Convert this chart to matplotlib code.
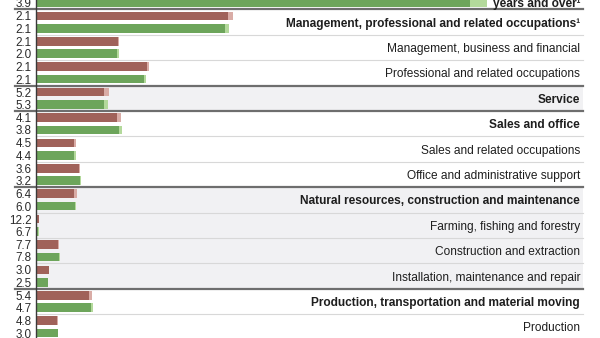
import numpy as np
import matplotlib.pyplot as plt

plt.rcParams['font.family'] = ['Liberation Sans', 'DejaVu Sans']

# occupations, top to bottom
labels = ['Total, 16\nyears and over\u00b9',
          'Management, professional and related occupations\u00b9',
          'Management, business and financial',
          'Professional and related occupations',
          'Service',
          'Sales and office',
          'Sales and related occupations',
          'Office and administrative support',
          'Natural resources, construction and maintenance',
          'Farming, fishing and forestry',
          'Construction and extraction',
          'Installation, maintenance and repair',
          'Production, transportation and material moving',
          'Production']
bold = [1, 1, 0, 0, 1, 1, 0, 0, 1, 0, 0, 0, 1, 0]
group = [0, 1, 1, 1, 2, 3, 3, 3, 4, 4, 4, 4, 5, 5]
shaded_groups = [2, 4]

# employed, millions (dark part) and upper value (light part)
red_emp = [155.0, 69.3, 29.6, 40.1, 24.5, 29.2, 13.7, 15.5, 13.7, 0.9, 7.9, 4.7, 19.1, 7.6]
red_hi = [161.0, 71.1, 30.0, 40.8, 26.4, 30.7, 14.4, 15.9, 14.8, 1.2, 8.3, 4.8, 20.2, 7.9]
green_emp = [156.7, 68.2, 29.2, 39.0, 24.5, 30.0, 13.7, 15.9, 14.1, 0.7, 8.3, 4.3, 19.9, 7.9]
green_hi = [162.8, 69.7, 30.0, 39.7, 26.0, 31.0, 14.4, 16.2, 14.4, 1.0, 8.7, 4.4, 20.6, 8.0]

# unemployment rates shown at the left
red_rate = ['3.7', '2.1', '2.1', '2.1', '5.2', '4.1', '4.5', '3.6', '6.4', '12.2', '7.7', '3.0', '5.4', '4.8']
green_rate = ['3.9', '2.1', '2.0', '2.1', '5.3', '3.8', '4.4', '3.2', '6.0', '6.7', '7.8', '2.5', '4.7', '3.0']

RED, RED_LT = '#a0625a', '#d9aca6'
GREEN, GREEN_LT = '#6da55b', '#b3d99b'

fig = plt.figure(figsize=(6, 3.38), dpi=100)
ax = fig.add_axes([0, 0, 1, 1])
ax.set_xlim(-13.0, 203.6)
ax.set_ylim(13.44, 0.134)
ax.axis('off')

y = np.arange(len(labels))
off_r, off_g, h = -0.24, 0.25, 0.34
x_axis = 0.06      # axes fraction of the zero line
x_right = 0.9717
dy = 0.06          # small downward nudge for text

# group shading
for i in range(len(labels)):
    if group[i] in shaded_groups:
        ax.axhspan(i - 0.5, i + 0.5, xmin=x_axis, xmax=x_right, color='#f1f1f3', lw=0, zorder=0)

# bars: light extension behind, solid part on top
ax.barh(y + off_r, red_hi, height=h, color=RED_LT, zorder=2)
ax.barh(y + off_r, red_emp, height=h, color=RED, zorder=3)
ax.barh(y + off_g, green_hi, height=h, color=GREEN_LT, zorder=2)
ax.barh(y + off_g, green_emp, height=h, color=GREEN, zorder=3)

# row separators
for i in range(len(labels) - 1):
    if group[i] != group[i + 1]:
        ax.axhline(i + 0.5, xmin=0.025, xmax=x_right, color='#6e6e6e', lw=1.6, zorder=4)
    else:
        ax.axhline(i + 0.5, xmin=x_axis, xmax=x_right, color='#d8d8d8', lw=0.8, zorder=1)

ax.axvline(0, color='#3a3a3a', lw=1.0, zorder=5)

tr = ax.get_yaxis_transform()
for i in range(len(labels)):
    ax.text(0.053, i + off_r + dy, red_rate[i], transform=tr, ha='right', va='center',
            fontsize=8.4, color='#2b2b2b')
    ax.text(0.053, i + off_g + dy, green_rate[i], transform=tr, ha='right', va='center',
            fontsize=8.4, color='#2b2b2b')
    ax.text(0.9667, i + dy, labels[i], transform=tr, ha='right', va='center',
            fontsize=8.6, color='#1e1e1e', fontweight='bold' if bold[i] else 'normal',
            linespacing=1.0, zorder=6)

fig.savefig('out.png', dpi=100)
